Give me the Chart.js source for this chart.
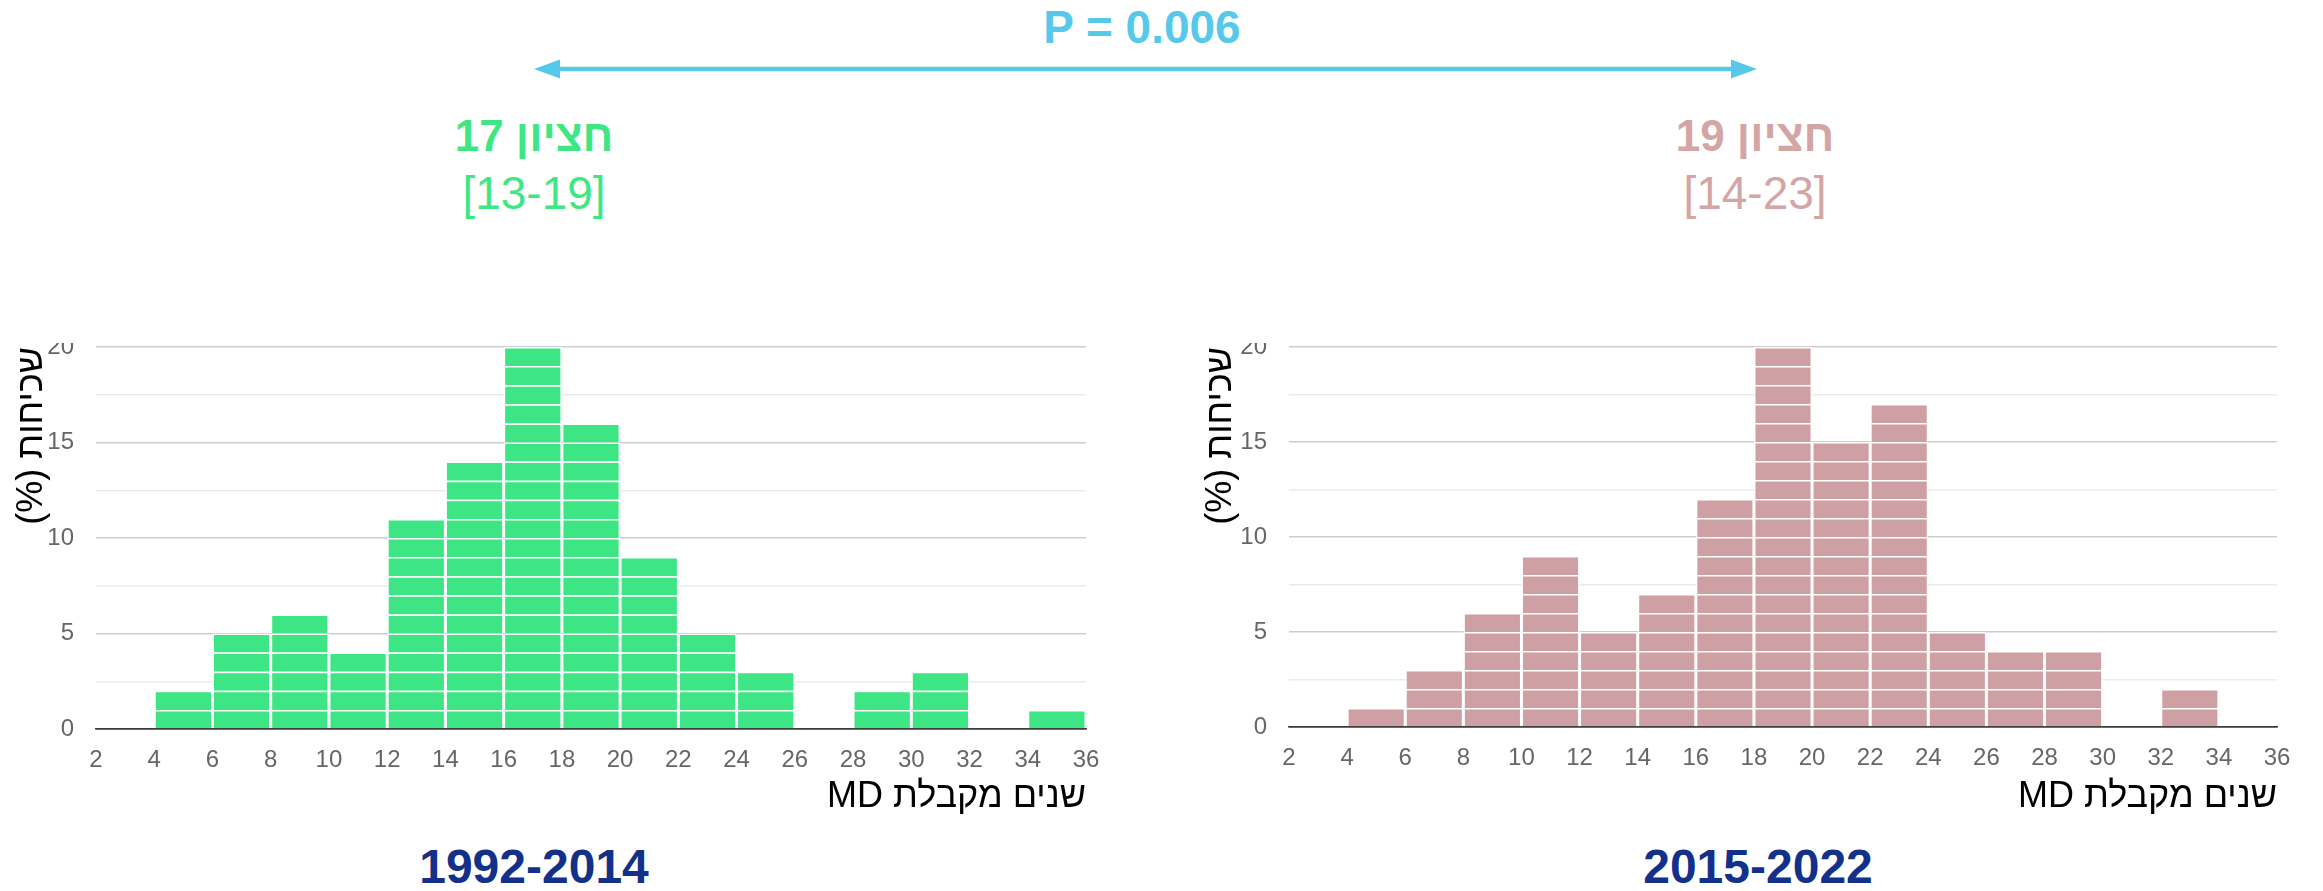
<!DOCTYPE html>
<html>
<head>
<meta charset="utf-8">
<script src="https://cdn.jsdelivr.net/npm/chart.js@4.4.1/dist/chart.umd.min.js"></script>
<style>
  body { margin: 0; width: 2323px; height: 891px; background: #fff; position: relative; overflow: hidden;
         font-family: "Liberation Sans", Arial, sans-serif; }
  .lbl { position: absolute; transform: translate(-50%, -50%); white-space: nowrap; line-height: 1; }
  .clip { position: absolute; overflow: hidden; }
  .clip canvas { position: absolute; left: 0; }
</style>
</head>
<body>

<div class="lbl" style="left:1142px; top:27px; font-size:46px; font-weight:bold; color:#56c8e9">P = 0.006</div>
<svg style="position:absolute; left:0; top:0" width="2323" height="110">
  <line x1="558" y1="69" x2="1733" y2="69" stroke="#56c8e9" stroke-width="4.5"/>
  <polygon points="534,69 560,59.5 560,78.5" fill="#56c8e9"/>
  <polygon points="1757,69 1731,59.5 1731,78.5" fill="#56c8e9"/>
</svg>

<div class="lbl" dir="rtl" style="left:534px; top:136px; font-size:44px; font-weight:bold; color:#3fe784">חציון 17</div>
<div class="lbl" style="left:534px; top:193px; font-size:46px; color:#3fe784">[13-19]</div>
<div class="lbl" dir="rtl" style="left:1755px; top:136px; font-size:44px; font-weight:bold; color:#d4a5a5">חציון 19</div>
<div class="lbl" style="left:1755px; top:193px; font-size:46px; color:#d4a5a5">[14-23]</div>

<div class="clip" style="left:0; top:343px; width:1130px; height:480px">
  <canvas id="early" dir="rtl" width="1130" height="523" style="top:-43px"></canvas>
</div>
<div class="clip" style="left:1190px; top:343px; width:1133px; height:480px">
  <canvas id="late" dir="rtl" width="1133" height="523" style="top:-43px"></canvas>
</div>

<div class="lbl" style="left:534px; top:867px; font-size:48px; font-weight:bold; color:#13318a">1992-2014</div>
<div class="lbl" style="left:1758px; top:867px; font-size:48px; font-weight:bold; color:#13318a">2015-2022</div>

<script>
// histogram bins (start of each 2-year bin) and share of residents per bin (%)
const binStarts = [4, 6, 8, 10, 12, 14, 16, 18, 20, 22, 24, 26, 28, 30, 32, 34];
const countsEarly = [2, 5, 6, 4, 11, 14, 20, 16, 9, 5, 3, 0, 2, 3, 0, 1];
const countsLate = [1, 3, 6, 9, 5, 7, 12, 20, 15, 17, 5, 4, 4, 0, 2, 0];

const xTicks = [2, 4, 6, 8, 10, 12, 14, 16, 18, 20, 22, 24, 26, 28, 30, 32, 34, 36];
const yTicks = [0, 2.5, 5, 7.5, 10, 12.5, 15, 17.5, 20];
const yTickLabels = [0, 5, 10, 15, 20];

const yTitle = 'שכיחות (%)';
const xTitle = 'שנים מקבלת MD';

const fontFamily = '"Liberation Sans", Arial, sans-serif';
const tickFamily = '"Liberation Sans Narrow", "Liberation Sans", Arial, sans-serif';
const tickColor = '#666666';

// every bar is a pile of 1% blocks, one dataset per level of the pile
function unitLayers(counts, color) {
    var top = Math.max.apply(null, counts);
    var sets = [];
    for (var k = 1; k <= top; k++) {
        sets.push({
            data: binStarts.map(function (b, i) {
                return {x: b + 1, y: counts[i] >= k ? 1 : null};
            }),
            backgroundColor: color,
            borderColor: '#ffffff',
            borderWidth: {top: 1.5, left: 1.5, right: 1.5, bottom: 0},
            borderSkipped: 'start',
            inflateAmount: 0,
            barPercentage: 1,
            categoryPercentage: 1
        });
    }
    return sets;
}

function makeChart(id, counts, color, yWidth, xHeight, padRight, titlePad) {
    return new Chart(document.getElementById(id), {
        type: 'bar',
        data: { datasets: unitLayers(counts, color) },
        options: {
            responsive: false,
            animation: false,
            layout: { padding: { top: 47, right: padRight, bottom: 0, left: 0 } },
            plugins: { legend: { display: false }, tooltip: { enabled: false } },
            scales: {
                x: {
                    type: 'linear',
                    min: 2,
                    max: 36,
                    offset: false,
                    stacked: true,
                    z: 1,
                    afterBuildTicks: function (s) { s.ticks = xTicks.map(function (v) { return {value: v}; }); },
                    afterFit: function (s) { s.height = xHeight; },
                    ticks: { padding: 9, color: tickColor, maxRotation: 0, autoSkip: false,
                             font: { family: tickFamily, size: 24 } },
                    grid: { display: false, offset: false },
                    border: { display: true, color: '#3a3a3a', width: 1.5 },
                    title: { display: true, text: xTitle, align: 'end', color: '#000',
                             font: { family: fontFamily, size: 36 }, padding: { top: 0, bottom: 4 } }
                },
                y: {
                    min: 0,
                    max: 20,
                    stacked: true,
                    afterBuildTicks: function (s) { s.ticks = yTicks.map(function (v) { return {value: v}; }); },
                    afterFit: function (s) { s.width = yWidth; },
                    ticks: {
                        padding: 22, color: tickColor, font: { family: tickFamily, size: 24 },
                        callback: function (v) { return yTickLabels.indexOf(v) >= 0 ? String(v) : ''; }
                    },
                    grid: {
                        drawTicks: false,
                        color: function (c) {
                            if (c.tick.value === 0) return '#3a3a3a';
                            return c.tick.value % 5 === 0 ? '#cdcdcd' : '#ebebeb';
                        },
                        lineWidth: 1.4
                    },
                    border: { display: false },
                    title: { display: true, text: yTitle, align: 'end', color: '#000',
                             font: { family: fontFamily, size: 36 }, padding: { top: titlePad, bottom: 0 } }
                }
            }
        }
    });
}

makeChart('early', countsEarly, '#3de584', 96, 94, 44, 10);
makeChart('late', countsLate, '#cfa0a3', 99, 96, 46, 9);
</script>
</body>
</html>
